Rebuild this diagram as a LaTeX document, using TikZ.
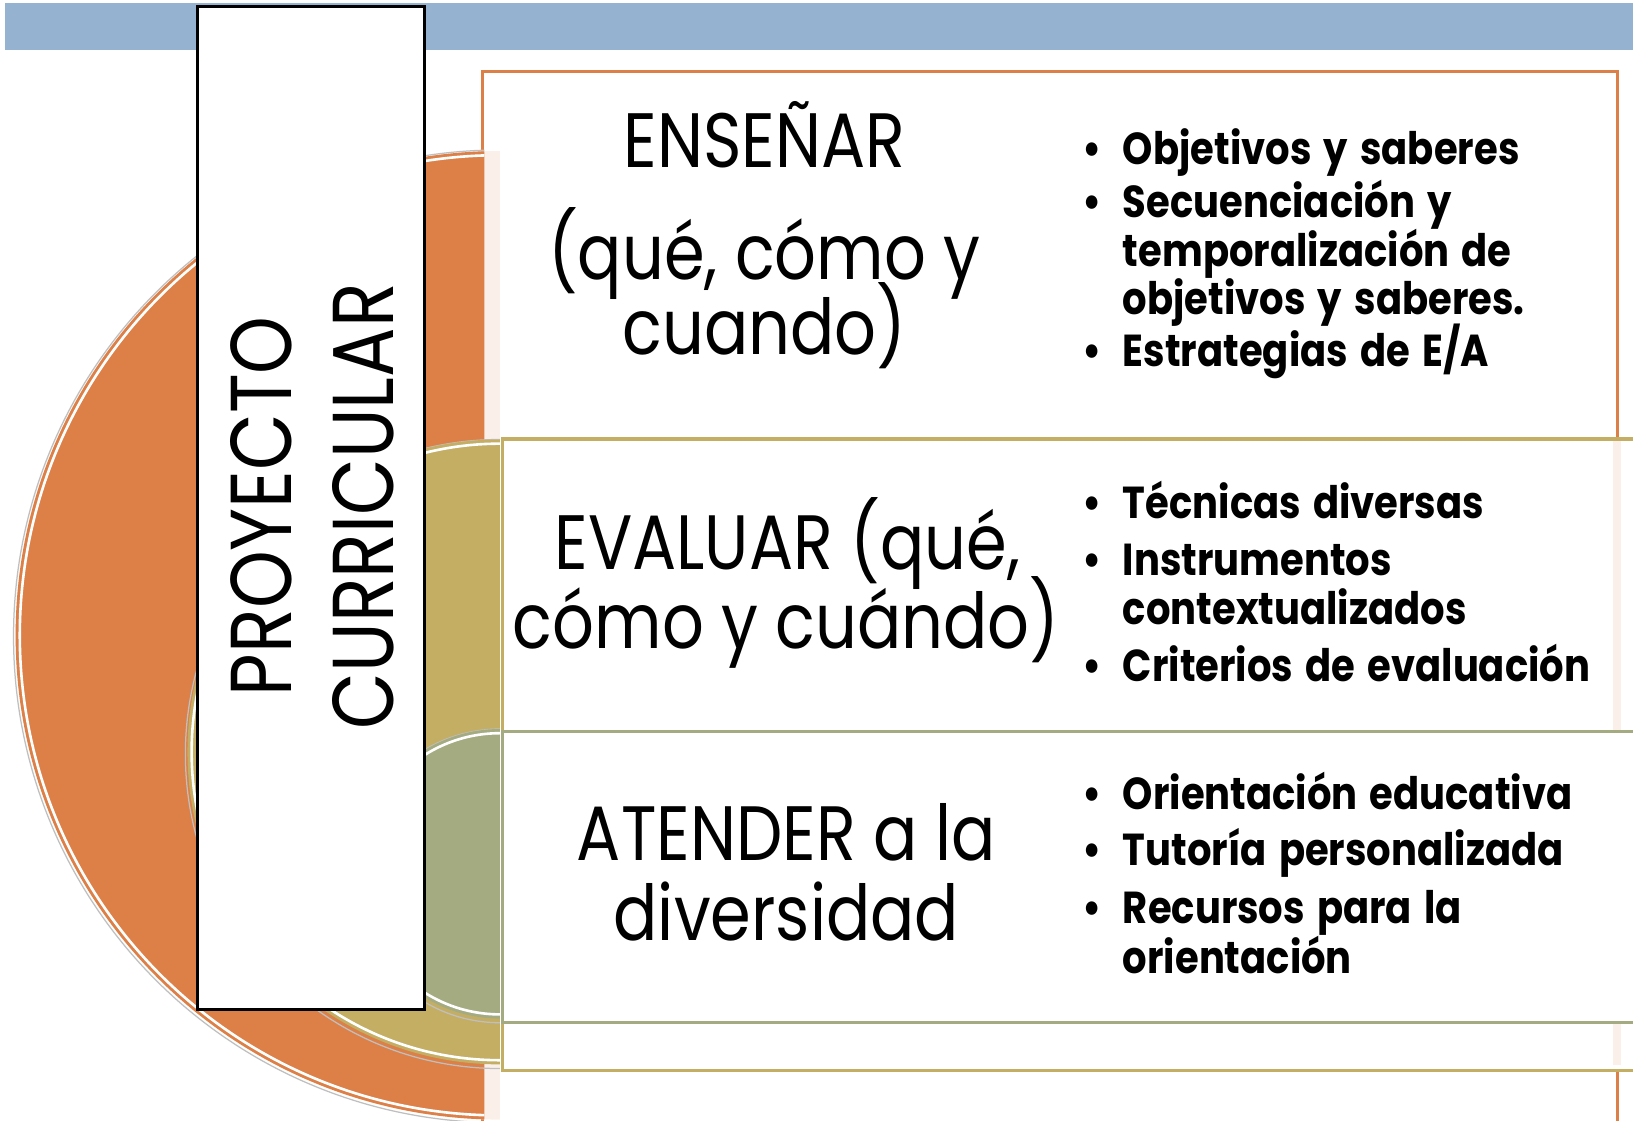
\documentclass[tikz,border=0pt]{standalone}
\usepackage{fontspec}
\setmainfont{Poppins}[FakeStretch=0.85]
\newfontfamily\bulfont{Poppins}[FakeStretch=0.86, WordSpace=1.5]
\definecolor{barblue}{RGB}{149,179,209}
\definecolor{orangeA}{RGB}{221,128,71}
\definecolor{tanA}{RGB}{196,174,100}
\definecolor{greenA}{RGB}{165,171,128}
\definecolor{paleA}{RGB}{251,240,233}
\tikzset{
  panel/.style={draw=#1, line width=3pt, fill=white, anchor=north west, inner sep=0pt},
  bigtxt/.style={font=\fontsize{74}{74}\selectfont, anchor=base, inner sep=0pt},
  bultxt/.style={font=\bulfont\fontsize{43}{43}\selectfont\bfseries, anchor=base west, inner sep=0pt},
  buldot/.style={font=\bulfont\fontsize{43}{43}\selectfont\bfseries, anchor=base, inner sep=0pt},
  ring/.style={white, line width=2.5pt},
  shade/.style={black!25, line width=1.2pt}
}
\begin{document}
\begin{tikzpicture}[x=1pt,y=-1pt]
\useasboundingbox (0,0) rectangle (1568,1076);
\fill[white] (0,0) rectangle (1568,1076);
% top bar
\fill[barblue] (5,3) rectangle (1568,48);
% orange panel and circle
\node[panel=orangeA, minimum width=1090pt, minimum height=1030pt] (boxA) at (462,67) {};
\begin{scope}
  \clip (0,0) rectangle (480,1076);
  \fill[paleA] (480,610) circle (465);
\end{scope}
\begin{scope}
  \clip (0,0) rectangle (465,1076);
  \draw[shade] (480,611) circle (467);
  \fill[orangeA] (480,610) circle (465);
  \draw[ring] (480,610) circle (461);
\end{scope}
% tan panel and circle
\node[panel=tanA, minimum width=1100pt, minimum height=606pt] (boxB) at (481,420) {};
\fill[paleA] (1549,423) rectangle (1556,1023);
\begin{scope}
  \clip (0,0) rectangle (480,1076);
  \draw[shade] (480,724) circle (302);
  \fill[tanA] (480,722) circle (300);
  \draw[ring] (480,722) circle (296);
\end{scope}
% green panel and circle
\node[panel=greenA, minimum width=1100pt, minimum height=279pt] (boxC) at (481,701) {};
\begin{scope}
  \clip (0,0) rectangle (480,1076);
  \draw[shade] (480,841) circle (141);
  \fill[greenA] (480,839) circle (139);
  \draw[ring] (480,839) circle (135);
\end{scope}
% black title box
\node[draw=black, line width=3pt, fill=white, anchor=north west, inner sep=0pt,
      minimum width=218pt, minimum height=963pt] (title) at (188,5) {};
\node[rotate=90, anchor=base, inner sep=0pt, font=\fontsize{83}{83}\selectfont] (t1) at (280,486) {PROYECTO};
\node[rotate=90, anchor=base, inner sep=0pt, font=\fontsize{83}{83}\selectfont] (t2) at (378,486) {CURRICULAR};
% big labels
\node[bigtxt] (a1) at (734,161) {ENSEÑAR};
\node[bigtxt] (a2) at (734,268) {(qué, cómo y};
\node[bigtxt] (a3) at (734,340) {cuando)};
\node[bigtxt] (b1) at (756,547) {EVALUAR (qué,};
\node[bigtxt] (b2) at (755,623) {cómo y cuándo)};
\node[bigtxt] (c1) at (755,826) {ATENDER a la};
\node[bigtxt] (c2) at (755,903) {diversidad};
% bullets
\foreach \y in {158,209,352,498,553,654,777,831,887}
  \node[buldot] at (1049,\y) {•};
\node[bultxt] (p1) at (1078,158) {Objetivos y saberes};
\node[bultxt] (p2) at (1078,209) {Secuenciación y};
\node[bultxt] (p3) at (1078,256) {temporalización de};
\node[bultxt] (p4) at (1078,302) {objetivos y saberes.};
\node[bultxt] (p5) at (1078,352) {Estrategias de E/A};
\node[bultxt] (q1) at (1078,498) {Técnicas diversas};
\node[bultxt] (q2) at (1078,553) {Instrumentos};
\node[bultxt] (q3) at (1078,600) {contextualizados};
\node[bultxt] (q4) at (1078,654) {Criterios de evaluación};
\node[bultxt] (r1) at (1078,777) {Orientación educativa};
\node[bultxt] (r2) at (1078,831) {Tutoría personalizada};
\node[bultxt] (r3) at (1078,887) {Recursos para la};
\node[bultxt] (r4) at (1078,935) {orientación};
\end{tikzpicture}
\end{document}
